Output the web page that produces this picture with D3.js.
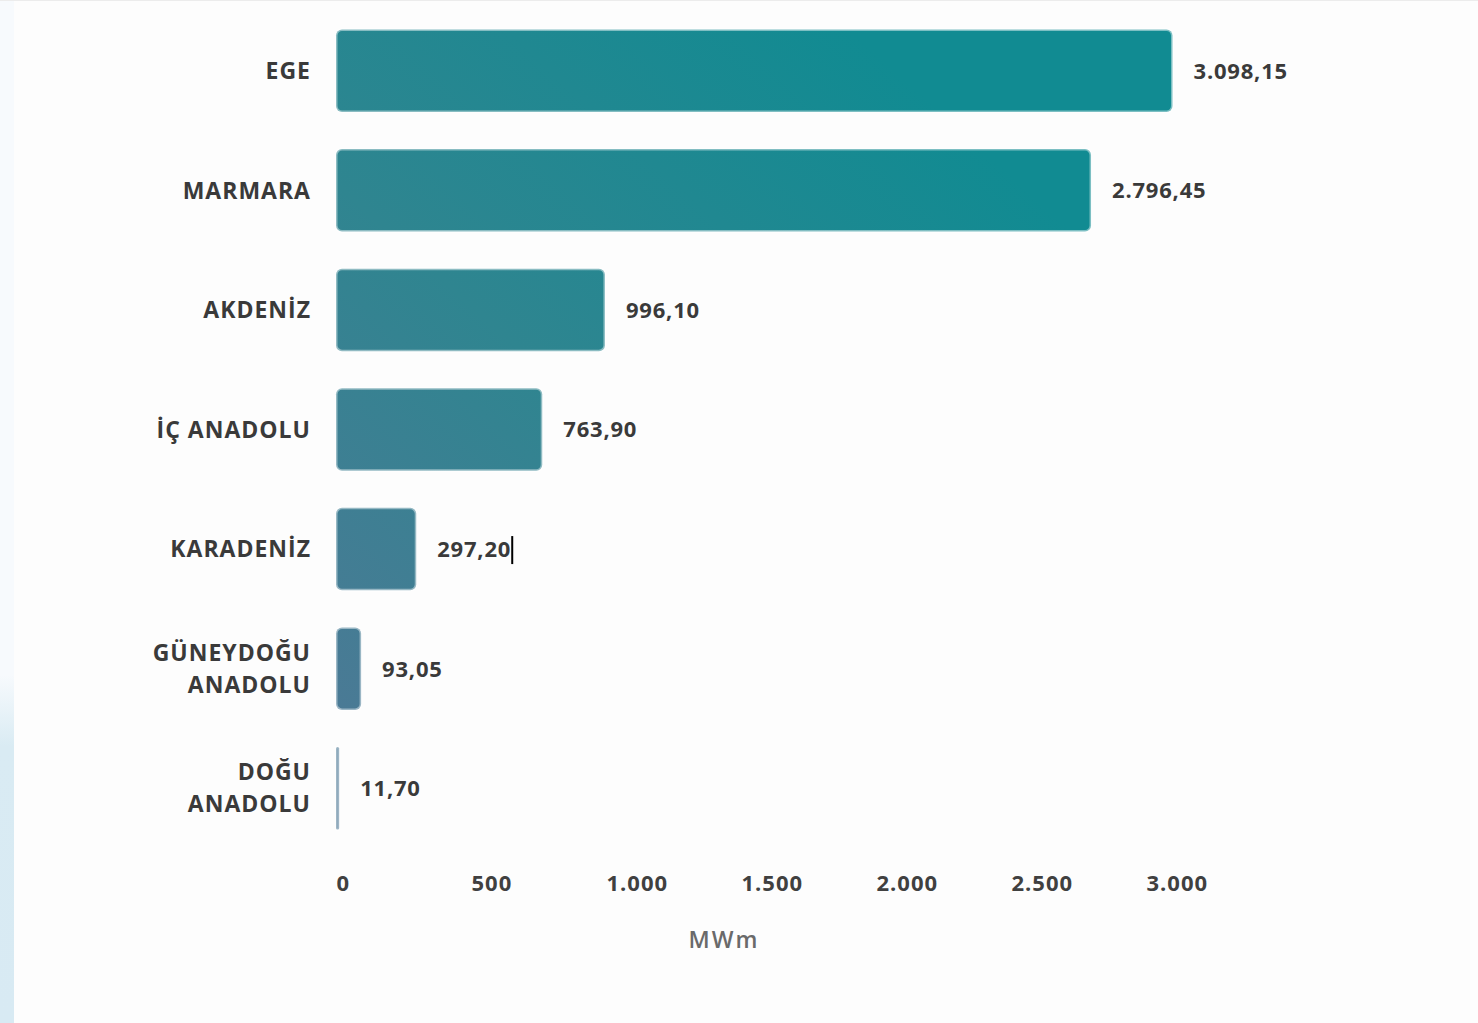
<!DOCTYPE html>
<html>
<head>
<meta charset="utf-8">
<script src="https://cdn.jsdelivr.net/npm/d3@7"></script>
<style>
  html,body{margin:0;padding:0;background:#fdfdfd;}
  svg{display:block;}
  text{font-family:"Open Sans",sans-serif;}
</style>
</head>
<body>
<svg width="1478" height="1023"></svg>
<script>
// regions and installed capacity (MWm)
const categories=['EGE','MARMARA','AKDENİZ','İÇ ANADOLU','KARADENİZ','GÜNEYDOĞU ANADOLU','DOĞU ANADOLU'];
const categoryLines=[['EGE'],['MARMARA'],['AKDENİZ'],['İÇ ANADOLU'],['KARADENİZ'],['GÜNEYDOĞU','ANADOLU'],['DOĞU','ANADOLU']];
const values=[3098.15,2796.45,996.10,763.90,297.20,93.05,11.70];
const xTicks=[0,500,1000,1500,2000,2500,3000];
const axisTitle='MWm';

const trLocale=d3.formatLocale({decimal:',',thousands:'.',grouping:[3],currency:['','']});
const fmtVal=trLocale.format(',.2f');
const fmtTick=trLocale.format(',d');

const svg=d3.select('svg');
const defs=svg.append('defs');

// background: top hairline + pale blue strip on the left
const side=defs.append('linearGradient').attr('id','side')
  .attr('x1',0).attr('y1',0).attr('x2',0).attr('y2',1);
side.append('stop').attr('offset','0.66').attr('stop-color','#f7fafd');
side.append('stop').attr('offset','0.73').attr('stop-color','#d9ebf3');
side.append('stop').attr('offset','1').attr('stop-color','#d8eaf3');
svg.append('rect').attr('x',0).attr('y',0).attr('width',14).attr('height',1023).attr('fill','url(#side)');
svg.append('rect').attr('x',0).attr('y',0).attr('width',1478).attr('height',1).attr('fill','#ececec');

// bar fill runs diagonally from blue-grey (bottom left) to teal (top right)
const grad=defs.append('linearGradient').attr('id','barFill')
  .attr('gradientUnits','userSpaceOnUse')
  .attr('x1',336).attr('y1',800).attr('x2',950).attr('y2',120);
grad.append('stop').attr('offset','0').attr('stop-color','#4f7896');
grad.append('stop').attr('offset','0.5').attr('stop-color','#2f8590');
grad.append('stop').attr('offset','1').attr('stop-color','#118b92');

const x=d3.scaleLinear().domain([0,3000]).range([336,1146]);
const y=d3.scaleBand().domain(categories).range([11,848]).paddingInner(0.31).paddingOuter(0.155);

const data=categories.map((c,i)=>({cat:c,value:values[i],lines:categoryLines[i]}));

svg.selectAll('.bar')
  .data(data)
  .enter()
  .append('rect')
  .classed('bar',true)
  .attr('x',x(0))
  .attr('y',d=>y(d.cat))
  .attr('width',d=>Math.max(3,x(d.value)-x(0)))
  .attr('height',y.bandwidth())
  .attr('rx',d=>Math.min(6,(x(d.value)-x(0))/2))
  .attr('fill','url(#barFill)')
  .attr('stroke','#ffffff')
  .attr('stroke-opacity',0.45)
  .attr('stroke-width',3);

// category labels
const catLabels=svg.selectAll('.cat')
  .data(data)
  .enter()
  .append('text')
  .classed('cat',true)
  .attr('text-anchor','end')
  .attr('font-size','23px')
  .attr('font-weight',700)
  .attr('fill','#3a3a3a')
  .attr('letter-spacing','1px')
  .attr('transform',d=>`translate(311,${y(d.cat)+y.bandwidth()/2})`);
catLabels.selectAll('tspan')
  .data(d=>d.lines.map((l,i)=>({l,i,n:d.lines.length})))
  .enter()
  .append('tspan')
  .attr('x',0)
  .attr('y',d=>(d.i-(d.n-1)/2)*32)
  .attr('dy','0.36em')
  .text(d=>d.l);

// value labels
const valLabels=svg.selectAll('.val')
  .data(data)
  .enter()
  .append('text')
  .classed('val',true)
  .attr('x',d=>Math.max(x(d.value),x(0)+3)+21)
  .attr('y',d=>y(d.cat)+y.bandwidth()/2)
  .attr('dy','0.36em')
  .attr('font-size','22px')
  .attr('font-weight',700)
  .attr('fill','#3a3a3a')
  .attr('letter-spacing','0.8px')
  .text(d=>fmtVal(d.value));

// the text cursor left after "297,20"
valLabels.filter(d=>d.cat==='KARADENİZ').each(function(d){
  const b=this.getBBox();
  svg.append('rect').attr('x',b.x+b.width).attr('y',y(d.cat)+y.bandwidth()/2-13)
    .attr('width',2).attr('height',28).attr('fill','#000');
});

// x axis
const axis=svg.append('g')
  .attr('transform','translate(0,868)')
  .call(d3.axisBottom(x).tickValues(xTicks).tickFormat(fmtTick).tickSize(0).tickPadding(0));
axis.select('.domain').remove();
axis.selectAll('text')
  .attr('text-anchor','start')
  .attr('dy','0.71em')
  .attr('y',7)
  .style('font-family','"Open Sans",sans-serif')
  .style('font-size','22px')
  .style('font-weight',700)
  .style('letter-spacing','1px')
  .attr('fill','#404040');

svg.append('text')
  .attr('x',724)
  .attr('y',940)
  .attr('dy','0.36em')
  .attr('text-anchor','middle')
  .attr('font-size','23px')
  .attr('font-weight',600)
  .attr('letter-spacing','2px')
  .attr('fill','#6a6a6a')
  .text(axisTitle);
</script>
</body>
</html>
